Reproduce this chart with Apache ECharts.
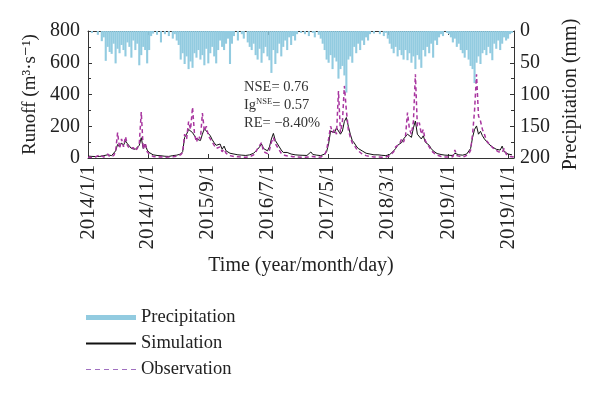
<!DOCTYPE html>
<html>
<head>
<meta charset="utf-8">
<script src="https://cdn.jsdelivr.net/npm/echarts@6/dist/echarts.min.js"></script>
<style>html,body{margin:0;padding:0;background:#fff;}#c{width:600px;height:394px;}</style>
</head>
<body>
<div id="c"></div>
<script>
// sampling: one value every 10 days starting 2014/1/1
const startDate = [2014, 0, 1];
const stepDays = 10;

const tickLabels = ['2014/1/1','2014/11/1','2015/9/1','2016/7/1','2017/5/1','2018/3/1','2019/1/1','2019/11/1'];

// Precipitation (mm)
const precipitation = [
  0,0,3,0,0,6,0,16,10,47,25,33,36,20,51,28,35,22,30,40,18,25,42,15,30,20,54,38,25,30,51,30,8,4,0,6,0,
  18,0,5,0,8,0,12,5,15,22,45,35,52,40,60,48,58,35,42,30,45,38,54,28,51,35,25,40,51,30,15,25,30,20,12,52,
  20,8,0,15,0,5,12,0,18,25,30,20,38,45,28,50,35,25,40,46,66,30,52,35,20,40,25,15,30,10,22,8,15,5,0,3,0,
  5,0,8,0,3,10,0,6,12,20,30,45,50,38,60,42,48,75,60,55,70,97,45,40,50,25,35,20,30,15,22,10,15,5,0,4,0,
  0,5,0,8,3,12,20,28,35,25,40,30,38,45,30,46,35,50,40,60,38,45,58,30,40,25,35,20,42,15,22,10,5,8,0,3,
  5,10,18,12,25,20,30,35,42,30,45,55,60,82,50,40,52,35,30,38,25,35,46,20,28,15,30,20,10,15,12,5,3
];

// Simulated runoff (m3/s)
const simulation = [
  12,10,10,9,9,8,10,12,15,14,20,18,15,22,45,85,70,95,80,108,90,75,60,70,55,65,80,128,60,88,50,35,25,20,18,16,14,
  14,12,11,10,10,12,15,14,18,20,25,40,130,150,180,190,160,140,120,130,110,150,185,170,160,140,115,95,80,70,88,55,75,45,35,30,
  28,25,22,20,20,18,17,16,18,20,25,30,40,55,70,88,60,50,45,70,120,155,110,100,70,50,35,30,35,28,25,22,20,20,18,18,17,
  17,16,18,38,22,20,18,16,15,18,25,40,90,170,180,160,190,200,150,170,230,255,200,150,110,95,75,60,50,45,35,30,28,25,22,20,20,
  20,18,17,16,15,18,22,30,45,60,80,70,97,120,110,150,160,130,190,233,150,160,120,140,100,90,80,60,45,35,28,25,22,20,18,17,
  17,16,16,30,20,20,18,18,20,25,35,60,130,180,202,150,168,140,120,110,90,87,70,60,55,60,50,75,40,30,25,22,20
];

// Observed runoff (m3/s)
const observation = [
  5,4,3,4,8,6,20,8,6,10,25,8,10,15,40,160,60,120,70,135,80,60,50,65,45,60,90,290,55,95,40,25,15,10,8,6,5,
  8,6,5,5,6,5,8,10,12,15,20,35,150,120,230,180,320,150,100,140,120,283,170,200,140,130,100,80,60,50,70,40,55,30,20,15,
  12,10,8,8,6,6,5,5,6,8,15,20,35,60,60,97,40,30,28,50,100,130,90,80,50,30,20,15,20,12,10,8,7,6,5,5,5,
  5,5,6,15,10,6,5,5,6,10,20,50,120,200,160,180,150,422,160,230,454,300,180,130,95,80,60,45,35,25,20,15,12,10,8,7,6,
  6,5,5,5,6,10,15,25,40,70,60,90,120,100,140,286,180,150,230,527,200,223,150,180,110,90,70,50,35,25,18,12,10,8,7,6,
  6,6,8,50,15,10,8,8,10,15,25,50,150,300,527,265,233,180,150,110,120,80,70,55,45,40,50,35,60,25,15,10,8,6
];

function dateAt(i) {
  const d = new Date(startDate[0], startDate[1], startDate[2]);
  d.setDate(d.getDate() + i * stepDays);
  return d.getTime();
}
function parseLabel(s) {
  const p = s.split('/').map(Number);
  return new Date(p[0], p[1] - 1, p[2]).getTime();
}
const tickValues = tickLabels.map(parseLabel);
const fmt = function (v) {
  const d = new Date(v);
  return d.getFullYear() + '/' + (d.getMonth() + 1) + '/' + d.getDate();
};

const precipData = precipitation.map((v, i) => [dateAt(i), v]);
const simData = simulation.map((v, i) => [dateAt(i), v]);
const obsData = observation.map((v, i) => [dateAt(i), v]);

const FONT = '"Liberation Serif", "DejaVu Serif", serif';
const AX = '#333';
const TXT = '#222';
const xMin = parseLabel('2014/1/1');
const xMax = parseLabel('2019/12/1');

const chart = echarts.init(document.getElementById('c'), null, {renderer: 'canvas'});
chart.setOption({
  animation: false,
  backgroundColor: '#fff',
  textStyle: {fontFamily: FONT},
  grid: {left: 88, right: 86, top: 31, bottom: 236, containLabel: false},
  legend: {
    orient: 'vertical',
    left: 80,
    top: 303,
    itemWidth: 50,
    itemHeight: 5,
    itemGap: 7,
    textStyle: {fontFamily: FONT, fontSize: 18.5, color: TXT},
    data: [
      {name: 'Precipitation', icon: 'rect'},
      {name: 'Simulation', itemStyle: {opacity: 0}},
      {name: 'Observation', itemStyle: {opacity: 0}, lineStyle: {color: '#a070c0', width: 1.2, type: [5, 4]}}
    ]
  },
  xAxis: [
    {
      type: 'value',
      min: xMin,
      max: xMax,
      position: 'bottom',
      name: 'Time (year/month/day)',
      nameLocation: 'middle',
      nameGap: 98,
      nameTextStyle: {fontFamily: FONT, fontSize: 20, color: TXT},
      axisLine: {show: true, lineStyle: {color: AX, width: 1}},
      axisTick: {show: true, inside: true, length: 4, customValues: tickValues, lineStyle: {color: AX}},
      axisLabel: {show: true, rotate: 90, margin: 7, customValues: tickValues, formatter: fmt,
                  fontFamily: FONT, fontSize: 21, color: TXT},
      splitLine: {show: false}
    },
    {
      type: 'value',
      min: xMin,
      max: xMax,
      position: 'top',
      axisLine: {show: true, lineStyle: {color: AX, width: 1}},
      axisTick: {show: true, inside: true, length: 4, customValues: tickValues, lineStyle: {color: AX}},
      axisLabel: {show: false},
      splitLine: {show: false}
    }
  ],
  yAxis: [
    {
      type: 'value',
      min: 0, max: 800, interval: 200,
      position: 'left',
      name: 'Runoff (m³·s⁻¹)',
      nameLocation: 'middle',
      nameGap: 47,
      nameRotate: 90,
      nameTextStyle: {fontFamily: FONT, fontSize: 19, color: TXT},
      axisLine: {show: true, lineStyle: {color: AX, width: 1}},
      axisTick: {show: true, inside: true, length: 4, lineStyle: {color: AX}},
      minorTick: {show: true, splitNumber: 2, length: 3, lineStyle: {color: AX}},
      axisLabel: {margin: 8, fontFamily: FONT, fontSize: 20, color: TXT},
      splitLine: {show: false}
    },
    {
      type: 'value',
      min: 0, max: 200, interval: 50,
      inverse: true,
      position: 'right',
      name: 'Precipitation (mm)',
      nameLocation: 'middle',
      nameGap: 43,
      nameRotate: 90,
      nameTextStyle: {fontFamily: FONT, fontSize: 20, color: TXT},
      axisLine: {show: true, lineStyle: {color: AX, width: 1}},
      axisTick: {show: true, inside: true, length: 4, lineStyle: {color: AX}},
      minorTick: {show: true, splitNumber: 2, length: 3, lineStyle: {color: AX}},
      axisLabel: {margin: 6, fontFamily: FONT, fontSize: 20, color: TXT},
      splitLine: {show: false}
    }
  ],
  graphic: [
    {
      type: 'text', left: 244, top: 80,
      style: {text: 'NSE= 0.76', font: '14.5px ' + FONT, fill: '#333'}
    },
    {
      type: 'text', left: 244, top: 97,
      style: {
        text: 'Ig{sup|NSE}= 0.57', font: '14.5px ' + FONT, fill: '#333',
        rich: {sup: {fontSize: 8.5, fontFamily: FONT, fill: '#333', verticalAlign: 'top', padding: [0, 0, 8, 0]}}
      }
    },
    {
      type: 'text', left: 244, top: 116,
      style: {text: 'RE= −8.40%', font: '14.5px ' + FONT, fill: '#333'}
    }
  ],
  series: [
    {
      name: 'Precipitation',
      type: 'bar',
      xAxisIndex: 0,
      yAxisIndex: 1,
      data: precipData,
      barWidth: 2.1,
      itemStyle: {color: '#92cbe0'},
      z: 1
    },
    {
      name: 'Simulation',
      type: 'line',
      xAxisIndex: 0,
      yAxisIndex: 0,
      data: simData,
      symbol: 'none',
      lineStyle: {color: '#111', width: 1},
      itemStyle: {color: '#111'},
      z: 3
    },
    {
      name: 'Observation',
      type: 'line',
      xAxisIndex: 0,
      yAxisIndex: 0,
      data: obsData,
      symbol: 'none',
      lineStyle: {color: '#a8359f', width: 1.5, type: [4, 3]},
      itemStyle: {color: '#a8359f'},
      z: 4
    }
  ]
});
</script>
</body>
</html>
